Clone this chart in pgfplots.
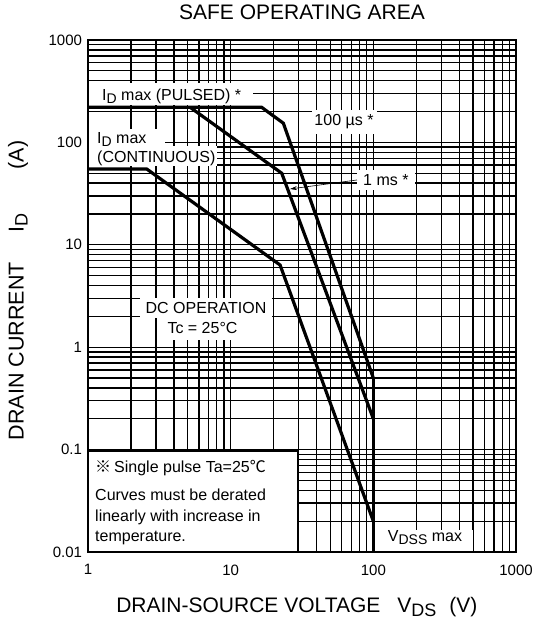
\documentclass[border=0pt]{standalone}
\usepackage{fontspec}
\setmainfont{Liberation Sans}
\newfontfamily\cjk{Noto Sans CJK JP}
\usepackage{pgfplots}
\pgfplotsset{compat=1.18}
\usetikzlibrary{arrows.meta}

% subscript that keeps the sans look of the datasheet
\newcommand{\sub}[2]{\raisebox{-0.35ex}{\fontsize{#1}{#1}\selectfont #2}}

\begin{document}
\begin{tikzpicture}
\useasboundingbox (-88pt,-71pt) rectangle (445pt,552pt);
\begin{axis}[
    name=ax, at={(0,0)}, anchor=south west,
    scale only axis, width=428pt, height=512pt,
    xmode=log, ymode=log,
    xmin=1, xmax=1000, ymin=0.01, ymax=1000,
    xtick={1,10,100,1000}, xticklabels={1,10,100,1000},
    ytick={0.01,0.1,1,10,100,1000}, yticklabels={0.01,0.1,1,10,100,1000},
    minor xtick={2,3,4,5,6,7,8,9,20,30,40,50,60,70,80,90,200,300,400,500,600,700,800,900},
    minor ytick={0.02,0.03,0.04,0.05,0.06,0.07,0.08,0.09,0.2,0.3,0.4,0.5,0.6,0.7,0.8,0.9,2,3,4,5,6,7,8,9,20,30,40,50,60,70,80,90,200,300,400,500,600,700,800,900},
    grid=both,
    major grid style={black, line width=1.3pt},
    minor grid style={black, line width=1.3pt},
    major tick length=0pt, minor tick length=0pt,
    axis line style={line width=2.5pt},
    tick label style={font=\fontsize{15}{16}\selectfont},
    xticklabel style={yshift=-9pt},
    yticklabel style={xshift=-2.5pt},
    title={SAFE OPERATING AREA},
    title style={font=\fontsize{21}{22}\selectfont, at={(axis description cs:0.5,1.043)}, anchor=center},
    xlabel={DRAIN-SOURCE VOLTAGE\hspace{17pt}V\sub{18}{DS}\hspace{13pt}(V)},
    xlabel style={font=\fontsize{21}{22}\selectfont, at={(axis description cs:0.488,-0.107)}, anchor=center},
    ylabel={DRAIN CURRENT\hspace{30pt}I\sub{18}{D}\hspace{44pt}(A)},
    ylabel style={font=\fontsize{21.5}{22}\selectfont, at={(axis description cs:-0.1636,0.511)}, anchor=center},
]
% I_D max (pulsed) / 100 us
\addplot[black, line width=3.2pt, line join=miter] coordinates {
  (1,220) (16.5,220) (23.4,154) (100,0.5)
};
% 1 ms
\addplot[black, line width=3.2pt] coordinates {
  (5.2,220) (22.8,50) (100,0.2)
};
% DC operation
\addplot[black, line width=3.2pt] coordinates {
  (1,55) (2.58,55) (22.2,6.35) (100,0.02)
};
% V_DSS max
\addplot[black, line width=3.2pt] coordinates {
  (100,0.5) (100,0.01)
};

% white label boxes
\fill[white] (rel axis cs:0,0.8730) rectangle (rel axis cs:0.3855,0.9160);
\fill[white] (rel axis cs:0,0.7930) rectangle (rel axis cs:0.1799,0.8262);
\fill[white] (rel axis cs:0,0.7539) rectangle (rel axis cs:0.3014,0.7930);
\fill[white] (rel axis cs:0.5234,0.8164) rectangle (rel axis cs:0.6752,0.8633);
\fill[white] (rel axis cs:0.6285,0.7070) rectangle (rel axis cs:0.7640,0.7461);
\fill[white] (rel axis cs:0.1215,0.4570) rectangle (rel axis cs:0.4299,0.4961);
\fill[white] (rel axis cs:0.1636,0.4141) rectangle (rel axis cs:0.3692,0.4570);
\fill[white] (rel axis cs:0.6729,0) rectangle (rel axis cs:0.8995,0.0430);

\begin{scope}[every node/.style={inner sep=0pt, font=\fontsize{16}{18}\selectfont}]
\node[anchor=west] at (rel axis cs:0.0327,0.8906) {I\sub{14}{D} max (PULSED) *};
\node[anchor=west] at (rel axis cs:0.0210,0.8066) {I\sub{14}{D} max};
\node[anchor=west] at (rel axis cs:0.0210,0.7695) {(CONTINUOUS)};
\node at (rel axis cs:0.5981,0.8398) {100 µs *};
\node[anchor=west] at (rel axis cs:0.6425,0.7266) {1 ms *};
\node at (rel axis cs:0.2757,0.4766) {DC OPERATION};
\node at (rel axis cs:0.2675,0.4375) {Tc = 25°C};
\node at (rel axis cs:0.7874,0.0273) {V\sub{14}{DSS} max};
\end{scope}
\draw[-{Stealth[length=7pt,width=4pt]}, line width=0.6pt]
  (rel axis cs:0.6285,0.7266) -- (rel axis cs:0.4720,0.7090);

% note box
\filldraw[fill=white, draw=black, line width=2pt]
  (rel axis cs:0,0) rectangle (rel axis cs:0.4907,0.1973);
\begin{scope}[every node/.style={inner sep=0pt, anchor=west, font=\fontsize{16}{18}\selectfont}]
\node at (rel axis cs:0.0164,0.1641) {{\cjk ※}\hspace{3pt}Single pulse Ta=25{\cjk ℃}};
\node at (rel axis cs:0.0164,0.1113) {Curves must be derated};
\node at (rel axis cs:0.0164,0.0684) {linearly with increase in};
\node at (rel axis cs:0.0164,0.0273) {temperature.};
\end{scope}
\end{axis}
\draw[line width=2.5pt] (ax.south west) rectangle (ax.north east);
\end{tikzpicture}
\end{document}
